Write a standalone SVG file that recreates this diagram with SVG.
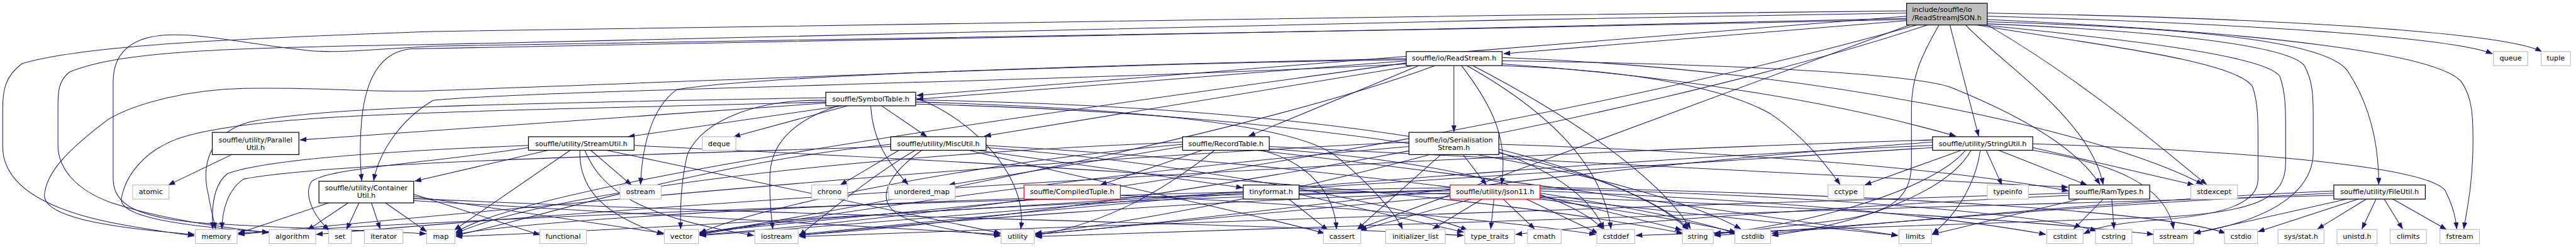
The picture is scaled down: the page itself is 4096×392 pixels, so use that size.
<svg xmlns="http://www.w3.org/2000/svg" width="4096" height="392" viewBox="0 0 4096 392">
<defs>
<marker id="ah" markerUnits="userSpaceOnUse" markerWidth="13" markerHeight="10" refX="12" refY="4.5" orient="auto"><path d="M0,0 L12,4.5 L0,9 z" fill="#191970" stroke="#191970" stroke-width="0.5"/></marker>
<style>
.e{fill:none;stroke:#191970;stroke-width:1.2;marker-end:url(#ah)}
.n rect{fill:#fff;stroke:#000;stroke-width:1.4}
.s rect{fill:#fff;stroke:#bfbfbf;stroke-width:1.4}
.r rect{fill:#fff;stroke:#ff0000;stroke-width:1.4}
.root rect{fill:#bfbfbf;stroke:#000;stroke-width:1.4}
text{font-family:"DejaVu Sans","Liberation Sans",sans-serif;font-size:13px;fill:#000;text-anchor:middle}
.root text{text-anchor:start}
</style>
</defs>
<rect width="4096" height="392" fill="#fff"/>
<g transform="scale(0.861)">
<g id="edges">
<path class="e" d="M3521,38 L2777,99"/>
<path class="e" d="M3670,30 C4100,42 4520,66 4603,99"/>
<path class="e" d="M3670,24 C4250,34 4630,62 4694,95"/>
<path class="e" d="M3521,30 L1693,176"/>
<path class="e" d="M3601,46 L3654,251"/>
<path class="e" d="M3630,46 C3700,120 3860,220 3884,340"/>
<path class="e" d="M3670,40 C4000,50 4290,70 4335,130 C4375,190 4393,260 4393,340"/>
<path class="e" d="M3670,36 C4200,60 4500,100 4545,150 C4567,180 4567,220 4567,260 C4567,340 4555,390 4550,422"/>
<path class="e" d="M3670,44 C3950,55 4220,80 4255,120 C4272,150 4272,180 4272,220 L4272,280 C4272,340 4220,400 4052,430"/>
<path class="e" d="M3660,46 C3900,70 4180,100 4210,140 C4221,170 4221,200 4221,240 L4221,300 C4221,360 4180,390 4000,400 C3700,412 3200,425 3021,434"/>
<path class="e" d="M3650,46 C3850,80 4130,110 4160,160 C4170,190 4170,220 4170,260 L4170,330 C4170,370 4120,395 3990,405 C3900,412 3870,420 3848,431"/>
<path class="e" d="M3581,46 C3550,100 3530,140 3530,200 L3530,300 C3530,360 3500,390 3400,405 C3300,418 3220,425 3166,432"/>
<path class="e" d="M3527,46 L2508,422"/>
<path class="e" d="M3521,20 C2500,30 1200,50 800,58 C400,72 150,85 41,117 C10,140 5,165 5,200 L5,270 C5,330 60,380 204,410 C280,425 330,430 359,435"/>
<path class="e" d="M3521,24 C2500,40 1200,70 800,82 C400,88 220,95 128,133 C107,150 107,170 107,200 L107,267 C107,310 140,350 204,373 C300,405 420,420 496,429"/>
<path class="e" d="M3521,34 C2500,60 1100,80 760,90 C700,95 675,150 668,220 C664,260 665,300 668,333"/>
<path class="e" d="M3521,36 C2500,60 1100,80 800,85 C700,90 620,100 560,92 C450,80 370,60 300,65 C240,70 209,100 209,150 L209,330 C209,380 260,400 360,410 C500,420 700,425 787,431"/>
<path class="e" d="M3540,46 C3000,200 2000,380 1292,433"/>
<path class="e" d="M3560,46 C3000,230 2000,400 1476,433"/>
<path class="e" d="M3670,46 C3850,150 4000,280 4075,340"/>
<path class="e" d="M2597,112 L1693,183"/>
<path class="e" d="M2685,121 L2685,243"/>
<path class="e" d="M2699,121 C2760,200 2785,260 2773,340"/>
<path class="e" d="M2774,112 C3200,118 3520,135 3600,160 C3750,220 3840,280 3878,340"/>
<path class="e" d="M2774,118 C3100,140 3400,190 3612,251"/>
<path class="e" d="M2620,121 L2306,251"/>
<path class="e" d="M2610,121 L1818,251"/>
<path class="e" d="M2597,118 C2000,150 1000,165 800,185 C740,220 700,280 690,333"/>
<path class="e" d="M2774,121 C3050,130 3200,170 3270,210 C3330,250 3370,300 3398,340"/>
<path class="e" d="M2597,108 C2000,120 1400,140 1250,165 C1200,200 1185,280 1183,340"/>
<path class="e" d="M2709,121 C2850,200 2960,300 2975,422"/>
<path class="e" d="M2720,121 C2950,240 3080,350 3122,422"/>
<path class="e" d="M2774,106 C3400,130 3900,250 4068,340"/>
<path class="e" d="M2597,110 C2000,118 1300,150 800,167 C700,172 600,160 450,163 C350,165 250,190 200,220 C120,280 85,320 82,360 C82,400 200,420 359,432"/>
<path class="e" d="M2597,116 C2000,200 1000,330 842,428"/>
<path class="e" d="M2650,121 C2300,250 1600,380 1292,431"/>
<path class="e" d="M1525,190 L554,258"/>
<path class="e" d="M1555,195 L1160,252"/>
<path class="e" d="M1565,195 L1355,252"/>
<path class="e" d="M1628,195 L1712,252"/>
<path class="e" d="M1608,195 C1612,260 1640,300 1677,340"/>
<path class="e" d="M1525,185 C1400,182 1300,220 1270,283 C1258,330 1256,380 1257,422"/>
<path class="e" d="M1548,195 C1470,220 1425,260 1422,320 C1420,370 1425,400 1427,422"/>
<path class="e" d="M1525,188 C1300,195 1000,200 800,208 C600,215 420,225 330,255 C260,280 230,330 224,367 C222,395 300,415 496,428"/>
<path class="e" d="M1691,188 C2100,200 2400,230 2470,290 C2530,340 2575,390 2590,422"/>
<path class="e" d="M1691,184 C2300,195 2950,260 3118,424"/>
<path class="e" d="M1691,192 C2500,210 3050,330 3215,422"/>
<path class="e" d="M1525,180 C1000,190 600,195 460,225 C390,245 370,300 385,360 C390,390 395,405 398,422"/>
<path class="e" d="M1691,180 C1800,220 1900,330 1885,422"/>
<path class="e" d="M1012,277 L766,334"/>
<path class="e" d="M1053,277 L839,424"/>
<path class="e" d="M1091,277 L1166,341"/>
<path class="e" d="M1071,277 C1068,350 1120,400 1225,432"/>
<path class="e" d="M1080,277 C1110,350 1180,400 1392,434"/>
<path class="e" d="M976,272 C800,300 600,310 575,335 C560,360 580,400 608,424"/>
<path class="e" d="M976,268 C800,275 500,290 420,320 C395,340 390,380 393,422"/>
<path class="e" d="M1120,277 L1848,430"/>
<path class="e" d="M1171,268 C1600,290 2600,330 3108,430"/>
<path class="e" d="M1805,277 L2295,346"/>
<path class="e" d="M1702,277 C1630,330 1610,380 1680,405 C1750,425 1800,430 1848,435"/>
<path class="e" d="M1660,277 L1552,341"/>
<path class="e" d="M1690,277 C1600,330 1520,400 1476,434"/>
<path class="e" d="M1645,266 C1300,300 1000,400 842,434"/>
<path class="e" d="M1645,270 C1200,285 600,300 450,330 C420,350 410,390 410,422"/>
<path class="e" d="M1790,277 C2000,330 2300,390 2446,430"/>
<path class="e" d="M1821,268 C2400,300 3000,380 3206,428"/>
<path class="e" d="M1821,272 C2200,300 2600,380 2710,424"/>
<path class="e" d="M2220,277 L2032,341"/>
<path class="e" d="M2344,270 L3819,345"/>
<path class="e" d="M2243,277 C2150,350 2050,410 1912,434"/>
<path class="e" d="M2184,270 L1752,341"/>
<path class="e" d="M2330,277 C2420,300 2465,360 2468,422"/>
<path class="e" d="M2320,277 C2700,320 3200,390 3505,434"/>
<path class="e" d="M2344,274 C2700,300 2900,360 2960,422"/>
<path class="e" d="M2184,262 C1500,290 1000,360 842,430"/>
<path class="e" d="M2184,266 C1800,300 1400,380 1292,430"/>
<path class="e" d="M2702,285 L2745,341"/>
<path class="e" d="M2768,266 C3200,280 3600,310 3820,352"/>
<path class="e" d="M2661,285 L2507,422"/>
<path class="e" d="M2640,285 C2400,350 2100,410 1912,430"/>
<path class="e" d="M2768,280 C2880,320 2940,370 2962,422"/>
<path class="e" d="M2768,275 C2950,320 3080,380 3118,422"/>
<path class="e" d="M2602,270 C2000,320 1500,400 1292,432"/>
<path class="e" d="M2602,262 C1800,300 1000,380 440,432"/>
<path class="e" d="M3622,277 L3444,341"/>
<path class="e" d="M3668,277 L3697,341"/>
<path class="e" d="M3691,277 L3854,341"/>
<path class="e" d="M3657,277 C3650,330 3620,390 3569,431"/>
<path class="e" d="M3640,277 C3600,350 3450,410 3272,434"/>
<path class="e" d="M3630,277 C3560,360 3300,420 3166,430"/>
<path class="e" d="M3754,272 L4052,341"/>
<path class="e" d="M3754,277 C3900,300 4000,340 4014,422"/>
<path class="e" d="M3754,265 C4200,280 4480,310 4515,350 C4530,380 4535,400 4537,422"/>
<path class="e" d="M3569,262 C3000,300 2300,400 1912,432"/>
<path class="e" d="M3569,268 C2800,300 1800,400 1292,434"/>
<path class="e" d="M3569,258 C2500,290 1200,380 584,432"/>
<path class="e" d="M3569,272 C2800,320 1500,410 842,436"/>
<path class="e" d="M3884,367 L3830,422"/>
<path class="e" d="M3900,367 L3904,422"/>
<path class="e" d="M3840,367 L3568,432"/>
<path class="e" d="M3821,360 C3400,380 3000,410 2799,432"/>
<path class="e" d="M3821,356 C3000,380 2000,420 1476,436"/>
<path class="e" d="M4370,367 L4280,422"/>
<path class="e" d="M4388,367 L4362,422"/>
<path class="e" d="M4403,367 L4437,422"/>
<path class="e" d="M4419,367 L4518,423"/>
<path class="e" d="M4355,367 L4170,427"/>
<path class="e" d="M4334,367 L4052,430"/>
<path class="e" d="M4310,352 C3900,370 3500,410 3272,430"/>
<path class="e" d="M4310,356 C3800,380 3400,420 3166,434"/>
<path class="e" d="M4310,360 C3500,380 2500,420 1912,436"/>
<path class="e" d="M2737,367 L2646,422"/>
<path class="e" d="M2759,367 L2753,422"/>
<path class="e" d="M2776,367 L2834,422"/>
<path class="e" d="M2717,367 L2512,424"/>
<path class="e" d="M2819,367 L2951,430"/>
<path class="e" d="M2844,360 L3106,424"/>
<path class="e" d="M2844,352 C3300,370 3600,400 3778,432"/>
<path class="e" d="M2844,356 C3000,380 3150,410 3206,431"/>
<path class="e" d="M2844,364 L3505,434"/>
<path class="e" d="M2844,348 C3400,360 3800,400 3872,426"/>
<path class="e" d="M2844,345 C3500,360 4000,390 4110,430"/>
<path class="e" d="M2678,356 C2200,370 1700,410 1476,434"/>
<path class="e" d="M2678,362 L1912,432"/>
<path class="e" d="M2678,350 C2000,370 1400,400 1292,432"/>
<path class="e" d="M2678,346 C1800,360 1000,400 842,432"/>
<path class="e" d="M2678,352 C1500,370 800,410 440,430"/>
<path class="e" d="M1919,367 L1292,428"/>
<path class="e" d="M2069,360 C2500,380 2800,410 2947,432"/>
<path class="e" d="M2380,367 L2452,424"/>
<path class="e" d="M2296,356 C2000,380 1600,420 1476,432"/>
<path class="e" d="M2399,352 C3000,360 3700,400 3977,432"/>
<path class="e" d="M2399,358 L2703,428"/>
<path class="e" d="M607,374 L440,430"/>
<path class="e" d="M643,374 L568,424"/>
<path class="e" d="M663,374 L640,423"/>
<path class="e" d="M686,374 L702,422"/>
<path class="e" d="M712,374 L788,427"/>
<path class="e" d="M764,358 L997,433"/>
<path class="e" d="M764,362 L1226,430"/>
<path class="e" d="M764,366 C1500,400 2300,410 2703,434"/>
<path class="e" d="M764,370 L1847,432"/>
<path class="e" d="M428,285 L311,341"/>
</g>
<g id="node-root" class="root"><rect x="3521" y="6" width="149" height="40"/><text x="3531" y="22">include/souffle/io</text><text x="3531" y="37">/ReadStreamJSON.h</text></g>
<g id="node-readstream" class="n"><rect x="2597" y="95" width="177" height="26"/><text x="2685.5" y="112">souffle/io/ReadStream.h</text></g>
<g id="node-queue" class="s"><rect x="4605" y="95" width="63" height="26"/><text x="4636.5" y="112">queue</text></g>
<g id="node-tuple" class="s"><rect x="4693" y="95" width="54" height="26"/><text x="4720" y="112">tuple</text></g>
<g id="node-symboltable" class="n"><rect x="1525" y="170" width="166" height="25"/><text x="1608" y="187">souffle/SymbolTable.h</text></g>
<g id="node-parallelutil" class="n"><rect x="392" y="244" width="160" height="41"/><text x="472" y="262">souffle/utility/Parallel</text><text x="472" y="276">Util.h</text></g>
<g id="node-streamutil" class="n"><rect x="976" y="252" width="195" height="25"/><text x="1073.5" y="269">souffle/utility/StreamUtil.h</text></g>
<g id="node-deque" class="s"><rect x="1297" y="252" width="62" height="25"/><text x="1328" y="269">deque</text></g>
<g id="node-miscutil" class="n"><rect x="1645" y="252" width="176" height="25"/><text x="1733" y="269">souffle/utility/MiscUtil.h</text></g>
<g id="node-recordtable" class="n"><rect x="2184" y="252" width="160" height="25"/><text x="2264" y="269">souffle/RecordTable.h</text></g>
<g id="node-serialisation" class="n"><rect x="2602" y="244" width="166" height="41"/><text x="2685" y="262">souffle/io/Serialisation</text><text x="2685" y="276">Stream.h</text></g>
<g id="node-stringutil" class="n"><rect x="3569" y="252" width="185" height="25"/><text x="3661.5" y="269">souffle/utility/StringUtil.h</text></g>
<g id="node-atomic" class="s"><rect x="245" y="341" width="67" height="26"/><text x="278.5" y="358">atomic</text></g>
<g id="node-containerutil" class="n"><rect x="589" y="334" width="175" height="40"/><text x="676.5" y="351">souffle/utility/Container</text><text x="676.5" y="365">Util.h</text></g>
<g id="node-ostream" class="s"><rect x="1145" y="341" width="76" height="26"/><text x="1183" y="358">ostream</text></g>
<g id="node-chrono" class="s"><rect x="1499" y="341" width="66" height="26"/><text x="1532" y="358">chrono</text></g>
<g id="node-unordered_map" class="s"><rect x="1641" y="341" width="123" height="26"/><text x="1702.5" y="358">unordered_map</text></g>
<g id="node-compiledtuple" class="r"><rect x="1891" y="341" width="178" height="26"/><text x="1980" y="358">souffle/CompiledTuple.h</text></g>
<g id="node-tinyformat" class="n"><rect x="2296" y="341" width="103" height="26"/><text x="2347.5" y="358">tinyformat.h</text></g>
<g id="node-json11" class="r"><rect x="2678" y="341" width="166" height="26"/><text x="2761" y="358">souffle/utility/json11.h</text></g>
<g id="node-cctype" class="s"><rect x="3376" y="341" width="66" height="26"/><text x="3409" y="358">cctype</text></g>
<g id="node-typeinfo" class="s"><rect x="3670" y="341" width="76" height="26"/><text x="3708" y="358">typeinfo</text></g>
<g id="node-ramtypes" class="n"><rect x="3821" y="341" width="149" height="26"/><text x="3895.5" y="358">souffle/RamTypes.h</text></g>
<g id="node-stdexcept" class="s"><rect x="4046" y="341" width="86" height="26"/><text x="4089" y="358">stdexcept</text></g>
<g id="node-fileutil" class="n"><rect x="4310" y="341" width="169" height="26"/><text x="4394.5" y="358">souffle/utility/FileUtil.h</text></g>
<g id="node-memory" class="s"><rect x="361" y="423" width="77" height="26"/><text x="399.5" y="440">memory</text></g>
<g id="node-algorithm" class="s"><rect x="497" y="423" width="86" height="26"/><text x="540" y="440">algorithm</text></g>
<g id="node-set" class="s"><rect x="607" y="423" width="42" height="26"/><text x="628" y="440">set</text></g>
<g id="node-iterator" class="s"><rect x="673" y="423" width="71" height="26"/><text x="708.5" y="440">iterator</text></g>
<g id="node-map" class="s"><rect x="788" y="423" width="52" height="26"/><text x="814" y="440">map</text></g>
<g id="node-functional" class="s"><rect x="997" y="423" width="86" height="26"/><text x="1040" y="440">functional</text></g>
<g id="node-vector" class="s"><rect x="1227" y="423" width="63" height="26"/><text x="1258.5" y="440">vector</text></g>
<g id="node-iostream" class="s"><rect x="1394" y="423" width="80" height="26"/><text x="1434" y="440">iostream</text></g>
<g id="node-utility" class="s"><rect x="1849" y="423" width="61" height="26"/><text x="1879.5" y="440">utility</text></g>
<g id="node-cassert" class="s"><rect x="2444" y="423" width="69" height="26"/><text x="2478.5" y="440">cassert</text></g>
<g id="node-initializer_list" class="s"><rect x="2559" y="423" width="110" height="26"/><text x="2614" y="440">initializer_list</text></g>
<g id="node-type_traits" class="s"><rect x="2705" y="423" width="92" height="26"/><text x="2751" y="440">type_traits</text></g>
<g id="node-cmath" class="s"><rect x="2821" y="423" width="62" height="26"/><text x="2852" y="440">cmath</text></g>
<g id="node-cstddef" class="s"><rect x="2949" y="423" width="70" height="26"/><text x="2984" y="440">cstddef</text></g>
<g id="node-string" class="s"><rect x="3107" y="423" width="57" height="26"/><text x="3135.5" y="440">string</text></g>
<g id="node-cstdlib" class="s"><rect x="3204" y="423" width="66" height="26"/><text x="3237" y="440">cstdlib</text></g>
<g id="node-limits" class="s"><rect x="3507" y="423" width="60" height="26"/><text x="3537" y="440">limits</text></g>
<g id="node-cstdint" class="s"><rect x="3780" y="423" width="67" height="26"/><text x="3813.5" y="440">cstdint</text></g>
<g id="node-cstring" class="s"><rect x="3870" y="423" width="67" height="26"/><text x="3903.5" y="440">cstring</text></g>
<g id="node-sstream" class="s"><rect x="3977" y="423" width="74" height="26"/><text x="4014" y="440">sstream</text></g>
<g id="node-cstdio" class="s"><rect x="4108" y="423" width="61" height="26"/><text x="4138.5" y="440">cstdio</text></g>
<g id="node-sysstat" class="s"><rect x="4207" y="423" width="85" height="26"/><text x="4249.5" y="440">sys/stat.h</text></g>
<g id="node-unistd" class="s"><rect x="4316" y="423" width="74" height="26"/><text x="4353" y="440">unistd.h</text></g>
<g id="node-climits" class="s"><rect x="4414" y="423" width="67" height="26"/><text x="4447.5" y="440">climits</text></g>
<g id="node-fstream" class="s"><rect x="4506" y="423" width="73" height="26"/><text x="4542.5" y="440">fstream</text></g>
</g>
</svg>
